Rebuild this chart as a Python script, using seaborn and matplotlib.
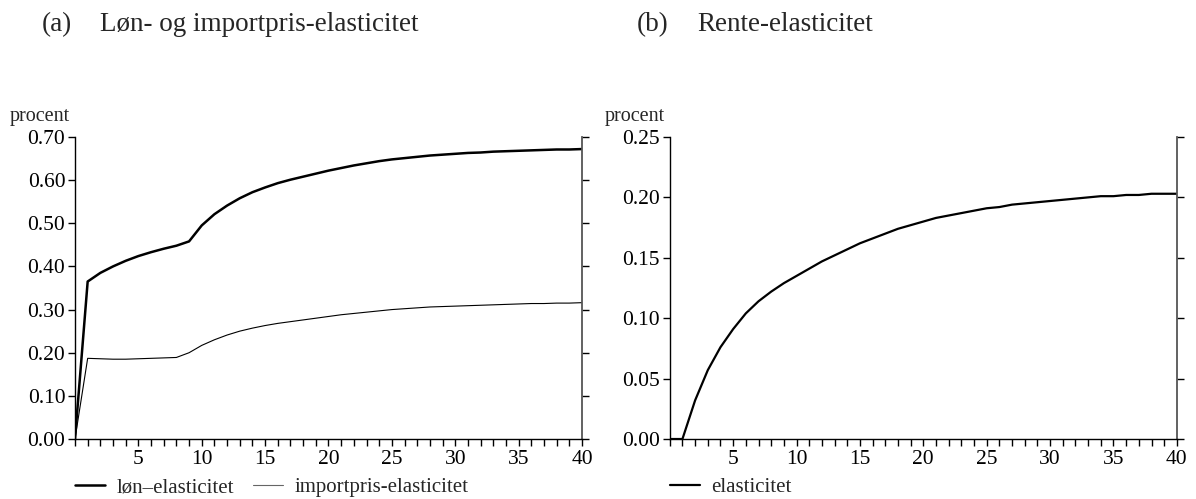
import numpy as np
import pandas as pd
import matplotlib
matplotlib.use("Agg")
import matplotlib.pyplot as plt
from matplotlib.ticker import MultipleLocator, FormatStrFormatter
import seaborn as sns

# periods 0..40
periods = list(range(0, 41))

# (a) wage elasticity and import price elasticity
loen = [0.000, 0.365, 0.385, 0.400, 0.413, 0.424, 0.433, 0.441, 0.448, 0.458,
        0.495, 0.521, 0.541, 0.558, 0.572, 0.583, 0.593, 0.601, 0.608, 0.615,
        0.622, 0.628, 0.634, 0.639, 0.644, 0.648, 0.651, 0.654, 0.657, 0.659,
        0.661, 0.663, 0.664, 0.666, 0.667, 0.668, 0.669, 0.670, 0.671, 0.671,
        0.672]
importpris = [0.000, 0.187, 0.186, 0.185, 0.185, 0.186, 0.187, 0.188, 0.189, 0.200,
              0.217, 0.230, 0.241, 0.250, 0.257, 0.263, 0.268, 0.272, 0.276, 0.280,
              0.284, 0.288, 0.291, 0.294, 0.297, 0.300, 0.302, 0.304, 0.306, 0.307,
              0.308, 0.309, 0.310, 0.311, 0.312, 0.313, 0.314, 0.314, 0.315, 0.315,
              0.316]

# (b) interest rate elasticity
rente = [0.000, 0.000, 0.032, 0.057, 0.076, 0.091, 0.104, 0.114, 0.122, 0.129,
         0.135, 0.141, 0.147, 0.152, 0.157, 0.162, 0.166, 0.170, 0.174, 0.177,
         0.180, 0.183, 0.185, 0.187, 0.189, 0.191, 0.192, 0.194, 0.195, 0.196,
         0.197, 0.198, 0.199, 0.200, 0.201, 0.201, 0.202, 0.202, 0.203, 0.203,
         0.203]

df_a = pd.DataFrame({"t": periods, "loen": loen, "importpris": importpris})
df_b = pd.DataFrame({"t": periods, "rente": rente})

sns.set_style("white")
plt.rcParams["font.family"] = ["Liberation Serif", "DejaVu Serif"]

fig = plt.figure(figsize=(11.96, 4.99), dpi=100)
ax1 = fig.add_axes([0.0627, 0.1202, 0.4239, 0.6053])
ax2 = fig.add_axes([0.5600, 0.1202, 0.4240, 0.6053])

sns.lineplot(data=df_a, x="t", y="loen", ax=ax1, color="black", linewidth=1.8,
             label="løn\u2013elasticitet")
sns.lineplot(data=df_a, x="t", y="importpris", ax=ax1, color="black", linewidth=0.8,
             label="importpris-elasticitet")
sns.lineplot(data=df_b, x="t", y="rente", ax=ax2, color="black", linewidth=1.6,
             label="elasticitet")


def style_axis(ax, ymax, ystep, fmt):
    ax.set_xlim(0, 40)
    ax.set_ylim(0, ymax)
    ax.set_xlabel("")
    ax.set_ylabel("")
    ax.xaxis.set_minor_locator(MultipleLocator(1))
    ax.set_xticks([5, 10, 15, 20, 25, 30, 35, 40])
    ax.yaxis.set_major_locator(MultipleLocator(ystep))
    ax.yaxis.set_major_formatter(FormatStrFormatter(fmt))
    ax.spines["top"].set_visible(False)
    for s in ["left", "bottom"]:
        ax.spines[s].set_color("black")
        ax.spines[s].set_linewidth(1.0)
    ax.spines["right"].set_color("#555555")
    ax.spines["right"].set_linewidth(1.3)
    ax.tick_params(axis="x", which="both", direction="out", length=5, width=1,
                   bottom=True, labelsize=15.5, pad=3, colors="black")
    ax.tick_params(axis="y", which="major", direction="out", length=5, width=1,
                   left=True, right=True, labelleft=True, labelright=False,
                   labelsize=15.5, pad=2, colors="black")
    ax.text(-0.128, 1.037, "procent", transform=ax.transAxes, fontsize=14.5,
            ha="left", va="bottom")


style_axis(ax1, 0.70, 0.10, "%.2f")
style_axis(ax2, 0.25, 0.05, "%.2f")

leg_kw = dict(loc="center left", frameon=False, fontsize=15, handlelength=1.45,
              handletextpad=0.55, columnspacing=0.9, borderpad=0, borderaxespad=0)
leg1 = ax1.legend(bbox_to_anchor=(0.0, -0.16), ncol=2, **leg_kw)
leg1.get_lines()[1].set_color("#666666")
ax2.legend(bbox_to_anchor=(0.0, -0.16), ncol=1, **leg_kw)

fig.text(0.035, 0.95, "(a)", fontsize=19.5, ha="left", va="center")
fig.text(0.0836, 0.95, "Løn- og importpris-elasticitet", fontsize=19.5,
         ha="left", va="center")
fig.text(0.5326, 0.95, "(b)", fontsize=19.5, ha="left", va="center")
fig.text(0.5828, 0.95, "Rente-elasticitet", fontsize=19.5, ha="left", va="center")

fig.savefig("out.png", dpi=100)
